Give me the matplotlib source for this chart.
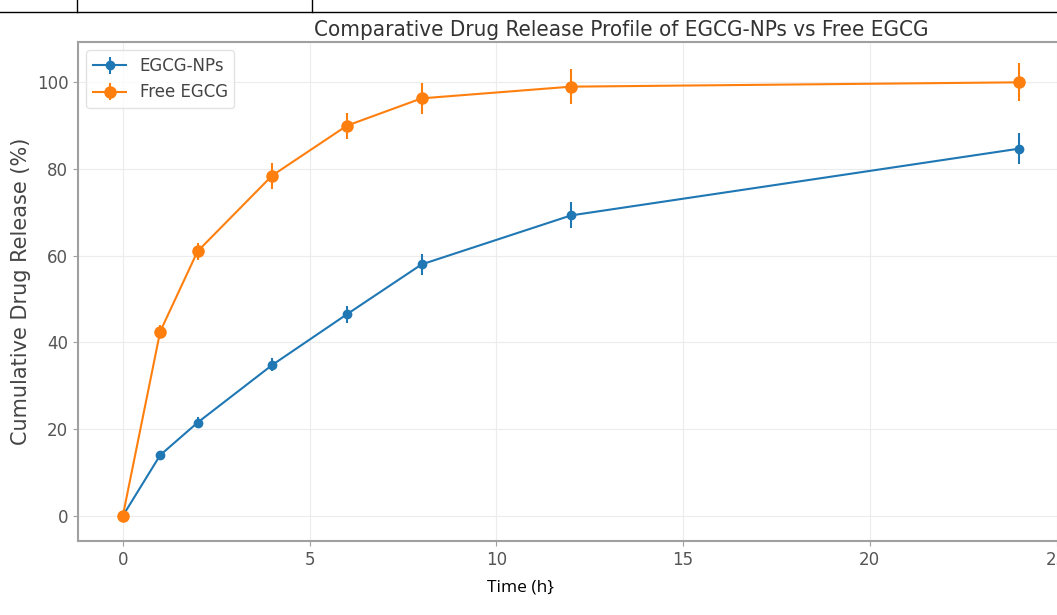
import numpy as np
import matplotlib.pyplot as plt
from matplotlib.lines import Line2D

time_h = [0, 1, 2, 4, 6, 8, 12, 24]
nps_release = [0, 14.0, 21.5, 34.8, 46.5, 58.0, 69.3, 84.7]
nps_err = [0.5, 1.0, 1.2, 1.5, 2.0, 2.5, 3.0, 3.5]
free_release = [0, 42.5, 61.0, 78.5, 90.0, 96.3, 99.0, 100.0]
free_err = [0.8, 1.5, 2.0, 3.0, 3.0, 3.5, 4.0, 4.4]

fig = plt.figure(figsize=(10.57, 6.15), dpi=100)
W, H = 1057, 615
ax = fig.add_axes([78 / W, (H - 541) / H, (1064 - 78) / W, (541 - 42) / H])

ax.errorbar(time_h, nps_release, yerr=nps_err, color="#1f77b4", marker="o",
            markersize=6, linewidth=1.5, capsize=0, label="EGCG-NPs")
ax.errorbar(time_h, free_release, yerr=free_err, color="#ff7f0e", marker="o",
            markersize=8, linewidth=1.5, capsize=0, label="Free EGCG")

ax.set_xlim(-1.2, 25.2)
ax.set_ylim(-5.8, 109.3)
ax.set_xticks([0, 5, 10, 15, 20, 25])
ax.set_yticks([0, 20, 40, 60, 80, 100])
ax.grid(True, color="#ececec", linewidth=0.8)
for s in ax.spines.values():
    s.set_color("#a0a0a0")
    s.set_linewidth(1.5)
ax.tick_params(colors="#a0a0a0", labelcolor="#555555", labelsize=12)

ax.set_title("Comparative Drug Release Profile of EGCG-NPs vs Free EGCG",
             fontsize=16, color="#333333", fontstretch="condensed", pad=4, x=0.551)
ax.set_ylabel("Cumulative Drug Release (%)", fontsize=15, color="#444444", labelpad=4)
leg = ax.legend(loc="upper left", fontsize=12, edgecolor="#dddddd")
for t in leg.get_texts():
    t.set_color("#444444")

# document table border above the figure
fig.add_artist(Line2D([0, 1], [1 - 12 / H, 1 - 12 / H], color="black", linewidth=1))
fig.add_artist(Line2D([77 / W, 77 / W], [1, 1 - 12 / H], color="black", linewidth=1))
fig.add_artist(Line2D([312 / W, 312 / W], [1, 1 - 12 / H], color="black", linewidth=1))

fig.text(520 / W, 1 - 588 / H, "Time (h}", fontsize=12.5, family="Open Sans",
         ha="center", va="center", color="black")

fig.savefig("out.png", dpi=100)
